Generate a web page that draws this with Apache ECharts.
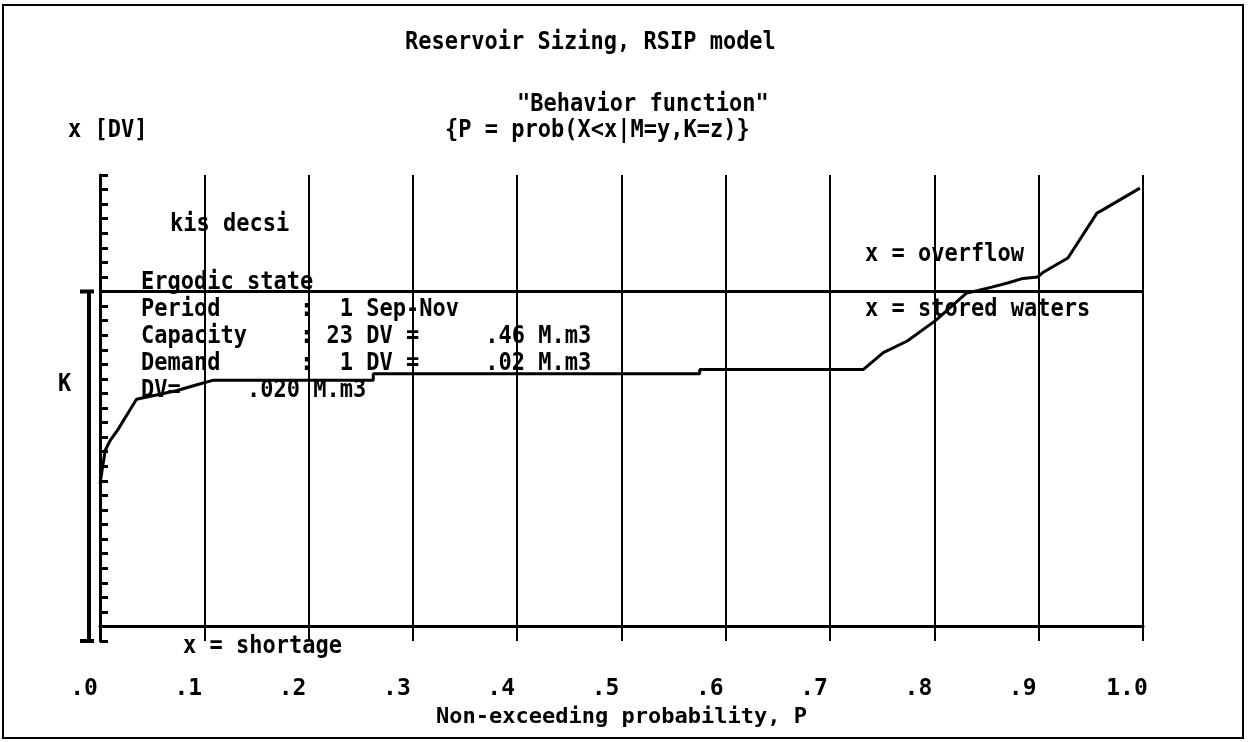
<!DOCTYPE html>
<html>
<head>
<meta charset="utf-8">
<title>Reservoir Sizing, RSIP model</title>
<script src="https://cdn.jsdelivr.net/npm/echarts@6/dist/echarts.min.js"></script>
<style>
  html, body { margin: 0; padding: 0; background: #fff; }
  #chart { width: 1248px; height: 742px; }
</style>
</head>
<body>
<div id="chart"></div>
<script>
// behavior function
var probP = [0, 0.005, 0.01, 0.017, 0.035, 0.074, 0.093, 0.108, 0.262, 0.262, 0.575, 0.575, 0.732, 0.751, 0.774, 0.801, 0.831, 0.841, 0.855, 0.871, 0.885, 0.899, 0.904, 0.928, 0.956, 0.959, 0.997];
var storageDV = [9.8, 12.1, 12.8, 13.5, 15.6, 16.2, 16.6, 16.9, 16.9, 17.35, 17.35, 17.65, 17.65, 18.8, 19.6, 21.0, 22.9, 23.05, 23.3, 23.6, 23.9, 24.0, 24.3, 25.3, 28.4, 28.5, 30.1];
var capacityK = 23;
var shortageLevel = 0;
var xTickLabels = [".0", ".1", ".2", ".3", ".4", ".5", ".6", ".7", ".8", ".9", "1.0"];

var infoLines = [
    "Ergodic state",
    "Period      :  1 Sep-Nov",
    "Capacity    : 23 DV =     .46 M.m3",
    "Demand      :  1 DV =     .02 M.m3",
    "DV=     .020 M.m3"
];

var FONT = "DejaVu Sans Mono";
var chart = echarts.init(document.getElementById("chart"));

var curve = probP.map(function (p, i) { return [p, storageDV[i]]; });

// DOS-like text: monospace, a bit stretched vertically
function txt(str, x, y) {
    return {
        type: "text",
        x: x,
        y: y,
        scaleY: 1.15,
        silent: true,
        z: 50,
        style: {
            text: str,
            fill: "#000",
            align: "left",
            verticalAlign: "middle",
            font: "bold 22px '" + FONT + "'"
        }
    };
}

var graphics = [
    {
        type: "rect",
        silent: true,
        shape: { x: 3, y: 5, width: 1240, height: 733 },
        style: { fill: "none", stroke: "#000", lineWidth: 2 }
    },
    txt("Reservoir Sizing, RSIP model", 405, 42),
    txt("\"Behavior function\"", 517, 104),
    txt("{P = prob(X<x|M=y,K=z)}", 445, 130),
    txt("x [DV]", 68, 130),
    txt("kis decsi", 170, 224),
    txt("x = overflow", 865, 254),
    txt("x = stored waters", 865, 309),
    txt("K", 58, 384),
    txt("x = shortage", 183, 646)
];
infoLines.forEach(function (s, i) {
    graphics.push(txt(s, 141, 282 + i * 27));
});

var option = {
    backgroundColor: "#fff",
    animation: false,
    grid: { left: 100, right: 105, top: 175, bottom: 101 },
    xAxis: {
        type: "value",
        min: 0,
        max: 1,
        interval: 0.1,
        name: "Non-exceeding probability, P",
        nameLocation: "middle",
        nameGap: 60,
        nameTextStyle: { color: "#000", fontFamily: FONT, fontWeight: "bold", fontSize: 22 },
        axisLine: { show: true, lineStyle: { color: "#000", width: 3 } },
        axisTick: { show: false },
        axisLabel: {
            color: "#000",
            fontFamily: FONT,
            fontWeight: "bold",
            fontSize: 23,
            margin: 37,
            padding: [0, 32, 0, 0],
            formatter: function (v) { return xTickLabels[Math.round(v * 10)]; }
        },
        splitLine: { show: true, lineStyle: { color: "#000", width: 2 } }
    },
    yAxis: {
        type: "value",
        min: -1,
        max: 31,
        interval: 1,
        axisLine: { show: true, lineStyle: { color: "#000", width: 3 } },
        axisTick: { show: true, inside: true, length: 8, lineStyle: { color: "#000", width: 3 } },
        axisLabel: { show: false },
        splitLine: { show: false }
    },
    series: [
        {
            type: "line",
            data: curve,
            symbol: "none",
            lineStyle: { color: "#000", width: 3 },
            markLine: {
                silent: true,
                symbol: "none",
                label: { show: false },
                lineStyle: { color: "#000", width: 3, type: "solid" },
                data: [{ yAxis: capacityK }, { yAxis: shortageLevel }]
            }
        }
    ],
    graphic: graphics
};
chart.setOption(option);

// K bracket on the left of the axis, from the bottom of the axis up to the capacity
var yTop = chart.convertToPixel({ yAxisIndex: 0 }, capacityK);
var yBot = chart.convertToPixel({ yAxisIndex: 0 }, -1);
graphics.push(
    { type: "line", silent: true, shape: { x1: 89, y1: yTop, x2: 89, y2: yBot }, style: { stroke: "#000", lineWidth: 4 } },
    { type: "line", silent: true, shape: { x1: 80, y1: yTop, x2: 94, y2: yTop }, style: { stroke: "#000", lineWidth: 4 } },
    { type: "line", silent: true, shape: { x1: 80, y1: yBot, x2: 94, y2: yBot }, style: { stroke: "#000", lineWidth: 4 } }
);
chart.setOption({ graphic: graphics });
</script>
</body>
</html>
